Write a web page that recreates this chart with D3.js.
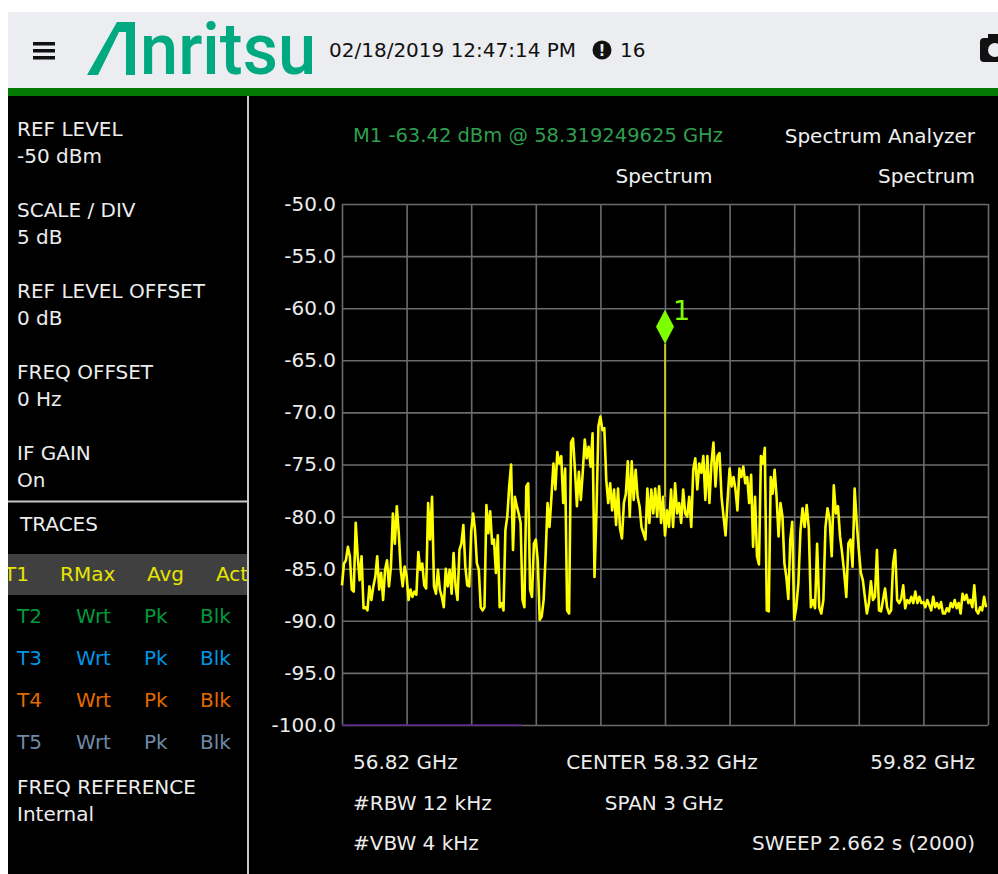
<!DOCTYPE html>
<html>
<head>
<meta charset="utf-8">
<style>
  html, body { margin: 0; padding: 0; background: #fff; overflow: hidden; }
  text { font-family: "DejaVu Sans", sans-serif; }
</style>
</head>
<body>
<div id="chart"></div>
<script src="https://cdn.jsdelivr.net/npm/d3@7"></script>
<script>
// trace readings in dBm, one list per 0.3 GHz graticule division
var traceDiv1 = [-86.6,-84.5,-84.2,-82.9,-83.8,-87,-87.2,-80.6,-83.8,-86.1,-83.8,-88.8,-88.7,-89,-86.7,-88,-86.7,-85.8,-83.8,-87,-85.4,-88,-85.1,-84.2,-86.7,-84.8,-79.7,-82.6,-79,-81.6,-85.1,-86.7,-84.8];
var traceDiv2 = [-85.7,-88,-87,-87.7,-87.2,-87.5,-83.4,-85.1,-84.5,-86.6,-86.9,-78.7,-82.2,-78.1,-86.7,-87.4,-85.1,-87,-87.7,-88.7,-85,-86.7,-85.1,-87.4,-83.5,-86.7,-88,-83.2,-82.6,-80.8,-84.8,-86.6,-86.7];
var traceDiv3 = [-81.4,-79.7,-81.3,-84.5,-85.1,-88.7,-89,-88.7,-78.9,-81.6,-79.5,-82.6,-82.2,-85.4,-81.8,-88.7,-88.3,-89,-81.3,-80,-77.1,-75,-83.2,-78.1,-79,-79.7,-80.6,-88,-88.7,-77.1,-76.8,-87,-87.7,-82.6];
var traceDiv4 = [-82.2,-84.2,-89.9,-89.6,-88,-83.8,-78.7,-81,-78.1,-74.9,-77.4,-73.8,-74.9,-74.2,-78.7,-75.4,-89,-89.3,-72.9,-72.5,-75.5,-79,-75.7,-78.4,-75.7,-72.6,-74.4,-73.3,-75.2,-72,-85.8,-79.4,-71.3];
var traceDiv5 = [-70.4,-71.7,-71.5,-76.5,-78.7,-76.8,-79.4,-77.4,-80.8,-77.3,-81.1,-82.1,-78.7,-77.8,-74.7,-80,-74.7,-78.4,-75.5,-78.1,-79,-81,-81.6,-82.2,-77.3,-80.6,-77.4,-79.7,-77.3,-80,-77.1,-80.6,-78.1];
var traceDiv6 = [-81.8,-79.4,-81,-77.4,-81,-76.8,-79.7,-78.7,-80.6,-77.4,-79.7,-80,-78.1,-81,-75.5,-74.4,-77.4,-74.9,-75.8,-74.2,-78.4,-74.2,-78.7,-74.9,-72.9,-77.1,-74.2,-73.9,-78.1,-80,-81.8,-78.4];
var traceDiv7 = [-75.4,-77.1,-76.2,-77.4,-79.4,-75.4,-76.2,-75.2,-76.8,-76.2,-78.7,-76,-82.9,-78.1,-83.8,-84.6,-74.2,-74.9,-73.4,-89,-89.1,-76.2,-77.8,-75.5,-78.1,-81.9,-78.7,-80,-84.5,-85.8,-87.9,-82.2,-80.5];
var traceDiv8 = [-89.9,-88.7,-86.4,-81.4,-79.2,-81,-78.9,-81.1,-88.7,-88,-88.8,-82.6,-88.7,-89.3,-88,-81,-79.2,-80.3,-83.8,-77,-79.7,-79,-81.9,-83.5,-85.4,-87.7,-82.6,-82.2,-84.8,-77.3,-80.6];
var traceDiv9 = [-83.2,-85.4,-86.1,-87.7,-89.3,-88.3,-86.2,-88,-87.7,-83.2,-89,-89.1,-88,-86.9,-88.7,-89.3,-89,-84.5,-83.2,-88,-88.3,-87.9,-86.6,-88.8,-88,-88.3,-87.7,-88.3,-87.2,-88.3,-87.7,-88.3];
var traceDiv10 = [-88.2,-88.7,-88,-88.5,-89,-87.7,-88.7,-88.3,-88.8,-88.2,-89.3,-89.3,-88.8,-89.1,-88.3,-88.7,-88,-88.8,-88.3,-89.3,-87.4,-88,-87.5,-88.3,-88,-88.7,-86.6,-89,-89.3,-88.7,-89,-87.7,-88.7];
var traceDivs = [traceDiv1, traceDiv2, traceDiv3, traceDiv4, traceDiv5, traceDiv6, traceDiv7, traceDiv8, traceDiv9, traceDiv10];

var dbTicks = [-50, -55, -60, -65, -70, -75, -80, -85, -90, -95, -100];
var freqTicks = [56.82, 57.12, 57.42, 57.72, 58.02, 58.32, 58.62, 58.92, 59.22, 59.52, 59.82];
var markerFreq = 58.32;
var markerDb = -63.42;
var markerFootDb = -78.1;
var limitFreqs = [56.82, 57.656];

var paramLabels = ["REF LEVEL", "SCALE / DIV", "REF LEVEL OFFSET", "FREQ OFFSET", "IF GAIN"];
var paramValues = ["-50 dBm", "5 dB", "0 dB", "0 Hz", "On"];
var traceNames = ["T1", "T2", "T3", "T4", "T5"];
var traceTypes = ["RMax", "Wrt", "Wrt", "Wrt", "Wrt"];
var traceDets = ["Avg", "Pk", "Pk", "Pk", "Pk"];
var traceModes = ["Act", "Blk", "Blk", "Blk", "Blk"];
var traceColors = ["#e6e600", "#009a3c", "#0095e0", "#e06a00", "#6e8aa8"];

// specify size
var width = 998;
var height = 874;
var font = 20;
var grid_color = "#6b6b6b";
var text_color = "#ececec";

var svg = d3.select("#chart")
            .append("svg")
            .attr("width", width)
            .attr("height", height)
            .style("display", "block");

// window frame
svg.append("rect").attr("x", 8).attr("y", 12).attr("width", 990).attr("height", 76).attr("fill", "#ebedf0");
svg.append("rect").attr("x", 8).attr("y", 88).attr("width", 990).attr("height", 8).attr("fill", "#047a04");
svg.append("rect").attr("x", 8).attr("y", 96).attr("width", 990).attr("height", 778).attr("fill", "#000");
svg.append("line").attr("x1", 248).attr("x2", 248).attr("y1", 96).attr("y2", 874).attr("stroke", "#c8c8c8").attr("stroke-width", 2);
svg.append("line").attr("x1", 8).attr("x2", 248).attr("y1", 501.5).attr("y2", 501.5).attr("stroke", "#c8c8c8").attr("stroke-width", 2);

// header
var burger = svg.append("g");
[42, 49, 56].forEach(function(y) {
  burger.append("rect").attr("x", 33).attr("y", y).attr("width", 22).attr("height", 3.5).attr("fill", "#111");
});
svg.append("path")
   .attr("d", "M87 75 L117 22 L135 22 L135 75 L126 75 L126 32 L119 32 L98 75 Z")
   .attr("fill", "#00a97f");
svg.append("text")
   .attr("x", 140).attr("y", 74)
   .attr("textLength", 176).attr("lengthAdjust", "spacingAndGlyphs")
   .attr("font-size", 72).attr("font-weight", 500)
   .attr("fill", "#00a97f")
   .style("font-family", "Roboto")
   .text("nritsu");
svg.append("text").attr("x", 329).attr("y", 57).attr("font-size", font).attr("fill", "#111").text("02/18/2019 12:47:14 PM");
svg.append("circle").attr("cx", 602).attr("cy", 50).attr("r", 9.5).attr("fill", "#111");
svg.append("text").attr("x", 602).attr("y", 56).attr("text-anchor", "middle").attr("font-size", 15).attr("font-weight", 700).attr("fill", "#ebedf0").text("!");
svg.append("text").attr("x", 620).attr("y", 57).attr("font-size", font).attr("fill", "#111").text("16");
// camera, cut off by the window edge
svg.append("rect").attr("x", 980).attr("y", 38).attr("width", 30).attr("height", 24).attr("rx", 4).attr("fill", "#111");
svg.append("rect").attr("x", 988).attr("y", 34).attr("width", 12).attr("height", 6).attr("fill", "#111");
svg.append("circle").attr("cx", 995).attr("cy", 50).attr("r", 7).attr("fill", "#ebedf0");

// left panel
paramLabels.forEach(function(label, i) {
  svg.append("text").attr("x", 17).attr("y", 136 + i * 81).attr("font-size", font).attr("fill", text_color).text(label);
  svg.append("text").attr("x", 17).attr("y", 163 + i * 81).attr("font-size", font).attr("fill", text_color).text(paramValues[i]);
});
svg.append("text").attr("x", 20).attr("y", 531).attr("font-size", font).attr("fill", text_color).text("TRACES");
svg.append("rect").attr("x", 8).attr("y", 554).attr("width", 239).attr("height", 41).attr("fill", "#404040");

// clip so T1 and Act get cut by the panel like the original
var clip = svg.append("clipPath").attr("id", "panel-clip");
clip.append("rect").attr("x", 8).attr("y", 540).attr("width", 239).attr("height", 240);
var rows = svg.append("g").attr("clip-path", "url(#panel-clip)");
traceNames.forEach(function(name, i) {
  var y = 581 + i * 42;
  var first = i === 0;
  rows.append("text").attr("x", first ? 4 : 17).attr("y", y).attr("font-size", font).attr("fill", traceColors[i]).text(name);
  rows.append("text").attr("x", first ? 60 : 76).attr("y", y).attr("font-size", font).attr("fill", traceColors[i]).text(traceTypes[i]);
  rows.append("text").attr("x", first ? 147 : 144).attr("y", y).attr("font-size", font).attr("fill", traceColors[i]).text(traceDets[i]);
  rows.append("text").attr("x", first ? 216 : 200).attr("y", y).attr("font-size", font).attr("fill", traceColors[i]).text(traceModes[i]);
});
svg.append("text").attr("x", 17).attr("y", 794).attr("font-size", font).attr("fill", text_color).text("FREQ REFERENCE");
svg.append("text").attr("x", 17).attr("y", 821).attr("font-size", font).attr("fill", text_color).text("Internal");

// scales
var xScale = d3.scaleLinear().domain([56.82, 59.82]).range([342, 988]);
var yScale = d3.scaleLinear().domain([-50, -100]).range([204, 725]);

// axes double as the graticule
var yAxis = svg.append("g")
   .attr("transform", "translate(342,0)")
   .call(d3.axisLeft(yScale).tickValues(dbTicks).tickFormat(function(d) { return d.toFixed(1); }).tickSize(-646).tickPadding(6));
var xAxis = svg.append("g")
   .attr("transform", "translate(0,725)")
   .call(d3.axisBottom(xScale).tickValues(freqTicks).tickFormat("").tickSize(-521));
svg.selectAll(".domain").remove();
svg.selectAll(".tick line").attr("stroke", grid_color).attr("stroke-width", 1.6);
yAxis.selectAll("text").attr("font-size", font).attr("fill", text_color).style("font-family", '"DejaVu Sans"');

// purple limit stub along the floor
svg.append("line")
   .attr("x1", xScale(limitFreqs[0])).attr("x2", xScale(limitFreqs[1]))
   .attr("y1", yScale(-100)).attr("y2", yScale(-100))
   .attr("stroke", "#5a1f8c").attr("stroke-width", 1.6);

// flatten the divisions into one sweep
var trace = [];
traceDivs.forEach(function(vals, d) {
  vals.forEach(function(v, i) {
    trace.push({f: freqTicks[d] + 0.3 * i / vals.length, db: v});
  });
});

var line = d3.line()
   .x(function(d) { return xScale(d.f); })
   .y(function(d) { return yScale(d.db); });

svg.append("path")
   .datum(trace)
   .attr("d", line)
   .attr("fill", "none")
   .attr("stroke", "#ffff00")
   .attr("stroke-width", 2.6)
   .attr("stroke-linejoin", "round");

// marker
var mx = xScale(markerFreq);
var my = yScale(markerDb);
svg.append("line").attr("x1", mx).attr("x2", mx).attr("y1", my).attr("y2", yScale(markerFootDb)).attr("stroke", "#e8d820").attr("stroke-width", 1.6);
svg.append("path")
   .attr("transform", "translate(" + mx + "," + (my - 17) + ")")
   .attr("d", d3.line()([[0, -17], [9, 0], [0, 17], [-9, 0]]) + "Z")
   .attr("fill", "#7dff00");
svg.append("text").attr("x", mx + 8).attr("y", my - 24).attr("font-size", 27).attr("fill", "#7dff00").text("1");

// readouts
svg.append("text").attr("x", 353).attr("y", 142).attr("font-size", 19.5).attr("fill", "#2f9e4f").text("M1 -63.42 dBm @ 58.319249625 GHz");
svg.append("text").attr("x", 975).attr("y", 143).attr("text-anchor", "end").attr("font-size", font).attr("fill", "#f0f0f0").text("Spectrum Analyzer");
svg.append("text").attr("x", 664).attr("y", 183).attr("text-anchor", "middle").attr("font-size", font).attr("fill", "#f0f0f0").text("Spectrum");
svg.append("text").attr("x", 975).attr("y", 183).attr("text-anchor", "end").attr("font-size", font).attr("fill", "#f0f0f0").text("Spectrum");
svg.append("text").attr("x", 353).attr("y", 769).attr("font-size", font).attr("fill", text_color).text("56.82 GHz");
svg.append("text").attr("x", 662).attr("y", 769).attr("text-anchor", "middle").attr("font-size", font).attr("fill", text_color).text("CENTER 58.32 GHz");
svg.append("text").attr("x", 975).attr("y", 769).attr("text-anchor", "end").attr("font-size", font).attr("fill", text_color).text("59.82 GHz");
svg.append("text").attr("x", 353).attr("y", 810).attr("font-size", font).attr("fill", text_color).text("#RBW 12 kHz");
svg.append("text").attr("x", 664).attr("y", 810).attr("text-anchor", "middle").attr("font-size", font).attr("fill", text_color).text("SPAN 3 GHz");
svg.append("text").attr("x", 353).attr("y", 850).attr("font-size", font).attr("fill", text_color).text("#VBW 4 kHz");
svg.append("text").attr("x", 975).attr("y", 850).attr("text-anchor", "end").attr("font-size", font).attr("fill", text_color).text("SWEEP 2.662 s (2000)");
</script>
</body>
</html>
